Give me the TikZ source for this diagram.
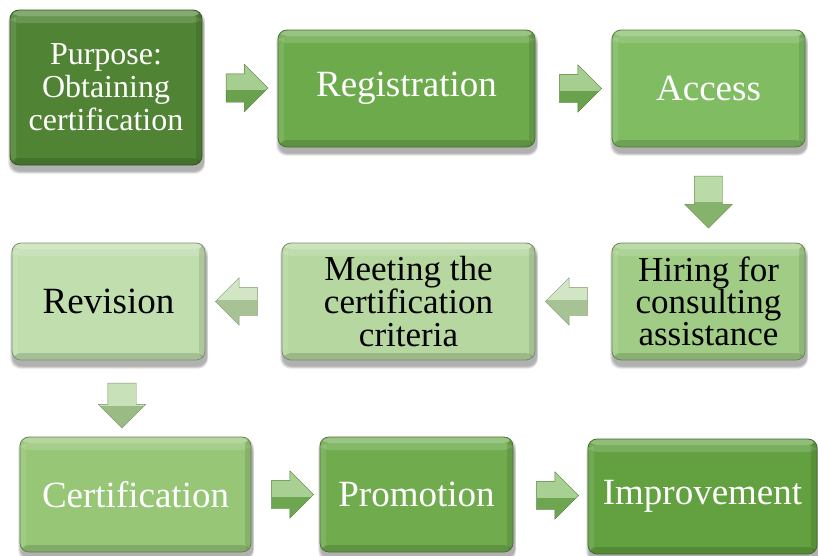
\documentclass[tikz,border=0pt]{standalone}
\usepackage{fontspec}
\newfontfamily\stepfont{Liberation Serif}
\usetikzlibrary{shapes.arrows,calc}

\pgfdeclarelayer{shadowlayer}
\pgfsetlayers{shadowlayer,main}

% step colours, dark to light
\definecolor{cPur}{RGB}{80,132,52}
\definecolor{cReg}{RGB}{108,170,75}
\definecolor{cAcc}{RGB}{128,188,98}
\definecolor{cHir}{RGB}{160,204,133}
\definecolor{cMee}{RGB}{182,215,160}
\definecolor{cRev}{RGB}{192,222,174}
\definecolor{cCer}{RGB}{150,198,118}
\definecolor{cPro}{RGB}{112,172,78}
\definecolor{cImp}{RGB}{98,160,64}
% block arrow colours
\definecolor{aOne}{RGB}{118,180,85}
\definecolor{aTwo}{RGB}{150,200,120}
\definecolor{aThr}{RGB}{186,218,166}
\definecolor{aFou}{RGB}{172,210,148}
\definecolor{aFiv}{RGB}{122,184,90}

\tikzset{
  stepbox/.style={rounded corners=9pt, draw=#1!65!black, line width=0.8pt,
    fill=#1,
    path picture={
      \fill[white, opacity=.30] (path picture bounding box.north west)
        rectangle ([yshift=-6pt]path picture bounding box.north east);
      \fill[white, opacity=.15] ([yshift=-6pt]path picture bounding box.north west)
        rectangle ([yshift=-13pt]path picture bounding box.north east);
      \fill[white, opacity=.10] (path picture bounding box.north west)
        rectangle ([xshift=6pt]path picture bounding box.south west);
      \fill[black, opacity=.14] ([yshift=7pt]path picture bounding box.south west)
        rectangle (path picture bounding box.south east);
      \fill[black, opacity=.10] ([xshift=-6pt]path picture bounding box.north east)
        rectangle (path picture bounding box.south east);
    },
    align=center, inner sep=0pt,
    font=\stepfont\fontsize{37}{35}\selectfont},
  lighttext/.style={text=white},
  darktext/.style={text=black},
  blockarrow/.style={single arrow, draw=#1!70!black, line width=0.4pt,
    fill=#1,
    path picture={
      \fill[white, opacity=.35] (path picture bounding box.north west)
        rectangle ([yshift=-2pt]path picture bounding box.east);
      \fill[black, opacity=.10] ([yshift=-2pt]path picture bounding box.west)
        rectangle (path picture bounding box.south east);
    },
    inner xsep=0pt, inner ysep=14pt, single arrow head extend=9.5pt,
    minimum height=42pt},
}

\begin{document}
\begin{tikzpicture}[x=1pt,y=-1pt]
\useasboundingbox (0,0) rectangle (818,555);

% row 1
\node[stepbox=cPur, lighttext, minimum width=192pt, minimum height=155pt,
  font=\stepfont\fontsize{32}{33}\selectfont] (pur) at (106,87.5)
  {Purpose:\\Obtaining\\certification};
\node[stepbox=cReg, lighttext, minimum width=257pt, minimum height=117pt] (reg) at (406.5,88.5) {Registration};
\node[stepbox=cAcc, lighttext, minimum width=193pt, minimum height=117pt] (acc) at (708.5,88.5) {Access};

% row 2
\node[stepbox=cHir, darktext, minimum width=193pt, minimum height=117pt,
  font=\stepfont\fontsize{35}{32}\selectfont] (hir) at (708.5,301.5)
  {Hiring for\\consulting\\assistance};
\node[stepbox=cMee, darktext, minimum width=253pt, minimum height=117pt,
  font=\stepfont\fontsize{35}{33}\selectfont] (mee) at (408.5,301.5)
  {Meeting the\\certification\\criteria};
\node[stepbox=cRev, darktext, minimum width=193pt, minimum height=117pt] (rev) at (108.5,301.5) {Revision};

% row 3
\node[stepbox=cCer, lighttext, minimum width=231pt, minimum height=115pt] (cer) at (135.5,494.5) {Certification};
\node[stepbox=cPro, lighttext, minimum width=193pt, minimum height=115pt] (pro) at (416.5,494.5) {Promotion};
\node[stepbox=cImp, lighttext, minimum width=229pt, minimum height=115pt] (imp) at (702.5,496.5) {Improvement};

% soft drop shadows under every box
\begin{pgfonlayer}{shadowlayer}
\foreach \n in {pur,reg,acc,hir,mee,rev,cer,pro,imp}{
  \foreach \g in {1,...,5}{
    \fill[black, opacity=.07, rounded corners=10pt]
      ([xshift={-2pt+\g*0.6pt},yshift={-\g*1.2pt}]\n.north west)
      rectangle ([xshift={3pt-\g*0.3pt},yshift={-9pt+\g*0.6pt}]\n.south east);
  }
}
\end{pgfonlayer}

% block arrows between the steps
\node[blockarrow=aOne] (a1) at ($(pur.east)!0.5!(reg.west)$) {};
\node[blockarrow=aOne] (a2) at ($(reg.east)!0.5!(acc.west)$) {};
\node[blockarrow=aTwo, rotate=-90, minimum height=52pt] (a3) at ($(acc.south)!0.5!(hir.north)$) {};
\node[blockarrow=aThr, rotate=180] (a4) at ($(hir.west)!0.5!(mee.east)$) {};
\node[blockarrow=aThr, rotate=180] (a5) at ($(mee.west)!0.5!(rev.east)$) {};
\node[blockarrow=aFou, rotate=-90, minimum height=45pt] (a6) at ($(rev.south)!0.5!(cer.north)$) {};
\node[blockarrow=aFiv] (a7) at ($(cer.east)!0.5!(pro.west)$) {};
\node[blockarrow=aFiv] (a8) at ($(pro.east)!0.5!(imp.west)$) {};
\end{tikzpicture}
\end{document}
